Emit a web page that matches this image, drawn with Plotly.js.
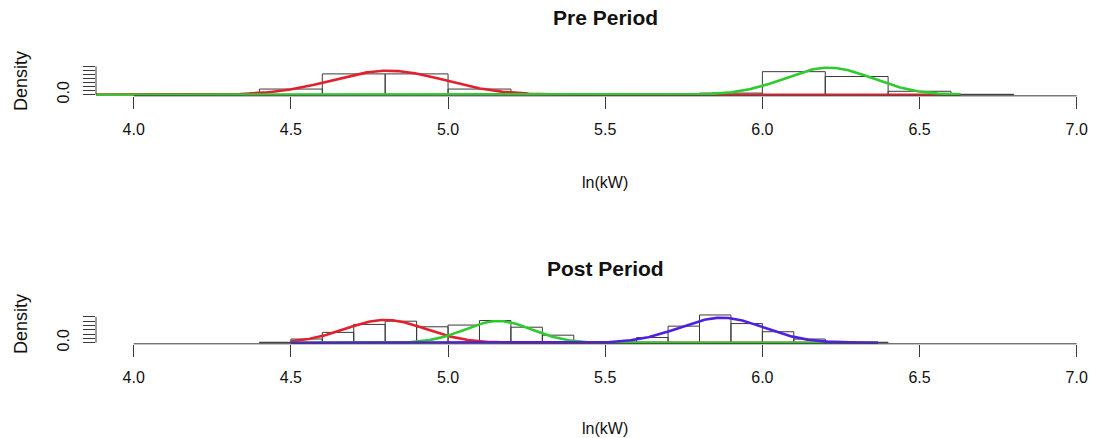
<!DOCTYPE html>
<html>
<head>
<meta charset="utf-8">
<script src="https://cdn.plot.ly/plotly-3.0.1.min.js"></script>
<style>
  html, body { margin: 0; padding: 0; background: #ffffff; }
  #chart { width: 1094px; height: 438px; }
</style>
</head>
<body>
<div id="chart"></div>
<script>
// Histogram of ln(kW): bin edges and densities, before and after
const preBreaks  = [4.4, 4.6, 4.8, 5.0, 5.2, 5.4, 5.6, 5.8, 6.0, 6.2, 6.4, 6.6, 6.8];
const preDensity = [0.28, 1.03, 1.03, 0.28, 0.03, 0, 0, 0.08, 1.14, 0.90, 0.17, 0.02];

const postBreaks  = [4.4, 4.5, 4.6, 4.7, 4.8, 4.9, 5.0, 5.1, 5.2, 5.3, 5.4, 5.5, 5.6, 5.7, 5.8, 5.9, 6.0, 6.1, 6.2, 6.3, 6.4];
const postDensity = [0.02, 0.17, 0.48, 0.85, 1.00, 0.74, 0.82, 1.03, 0.72, 0.35, 0.03, 0.02, 0.24, 0.77, 1.29, 0.89, 0.51, 0.17, 0.05, 0.02];

// Fitted normal mixture components: mean, sd and mixing weight
const preMeans   = [4.81, 6.21];
const preSds     = [0.178, 0.14];
const preWeights = [0.53, 0.47];
const preDataRange = [3.85, 6.63];

const postMeans   = [4.80, 5.16, 5.87];
const postSds     = [0.128, 0.107, 0.134];
const postWeights = [0.34, 0.27, 0.39];
const postDataRange = [4.50, 6.37];

const componentColors = ['#e3202c', '#2ecb2e', '#5020e0'];

// Axis ticks and limits
const xTicks = [4.0, 4.5, 5.0, 5.5, 6.0, 6.5, 7.0];
const xLimits = [4, 7];
const preYTicks  = [0, 0.2, 0.4, 0.6, 0.8, 1.0, 1.2, 1.4];
const preYLimits = [0, 1.4];
const postYTicks  = [0, 0.2, 0.4, 0.6, 0.8, 1.0, 1.2];
const postYLimits = [0, 1.29];

const titles = ['Pre Period', 'Post Period'];
const xLabel = 'ln(kW)';
const yLabel = 'Density';

// ---- page geometry (pixels) ----
const W = 1094, H = 438;
const FONT = 'Liberation Sans, Arial, Helvetica, sans-serif';
const plotLeft = 96;
const pxPerX = 314.33;
const ext = 0.04;  // 4% axis extension on each side
const xStart = xLimits[0] - ext * (xLimits[1] - xLimits[0]);
const xEnd = xStart + (W - plotLeft) / pxPerX;
const py = p => 1 - p / H;

function panelY(limits, zeroPx, pxPerY) {
  const span = limits[1] - limits[0];
  const lo = limits[0] - ext * span, hi = limits[1] + ext * span;
  const bottomPx = zeroPx + (0 - lo) * pxPerY;
  const topPx = zeroPx - hi * pxPerY;
  return { range: [lo, hi], domain: [py(bottomPx), py(topPx)] };
}
const preY = panelY(preYLimits, 94.7, 20.2);
const postY = panelY(postYLimits, 342.7, 21.5);

function histTrace(breaks, dens, xa, ya) {
  const left = breaks.slice(0, -1);
  const widths = left.map((b, i) => breaks[i + 1] - b);
  return {
    type: 'bar', x: left, y: dens, width: widths, offset: 0,
    xaxis: xa, yaxis: ya,
    marker: { color: 'rgba(0,0,0,0)', line: { color: '#3a3a3a', width: 1 } },
    hoverinfo: 'skip'
  };
}

function curveTraces(means, sds, weights, range, xa, ya) {
  return means.map((m, k) => {
    const xs = [], ys = [];
    for (let x = range[0]; x <= range[1] + 1e-9; x += 0.004) {
      xs.push(x);
      ys.push(weights[k] * Math.exp(-0.5 * ((x - m) / sds[k]) ** 2) / (sds[k] * Math.sqrt(2 * Math.PI)));
    }
    return {
      type: 'scatter', mode: 'lines', x: xs, y: ys, xaxis: xa, yaxis: ya,
      line: { color: componentColors[k], width: 2.6, shape: 'linear' },
      hoverinfo: 'skip'
    };
  });
}

const data = [
  histTrace(preBreaks, preDensity, 'x', 'y'),
  ...curveTraces(preMeans, preSds, preWeights, preDataRange, 'x', 'y'),
  histTrace(postBreaks, postDensity, 'x2', 'y2'),
  ...curveTraces(postMeans, postSds, postWeights, postDataRange, 'x2', 'y2')
];

function xAxis(anchor) {
  return {
    anchor: anchor, domain: [plotLeft / W, 1], range: [xStart, xEnd],
    showgrid: false, zeroline: false, showline: false,
    ticks: 'outside', ticklen: 12, tickwidth: 1, tickcolor: '#3a3a3a',
    tickvals: xTicks, ticktext: xTicks.map(v => v.toFixed(1)),
    tickfont: { family: FONT, size: 16, color: '#111' },
    ticklabelstandoff: 7
  };
}
function yAxis(anchor, geo, ticks) {
  return {
    anchor: anchor, domain: geo.domain, range: geo.range,
    showgrid: false, zeroline: false, showline: false,
    ticks: 'outside', ticklen: 12, tickwidth: 1, tickcolor: '#3a3a3a',
    tickvals: ticks, ticktext: ticks.map((v, i) => i === 0 ? v.toFixed(1) : ''),
    tickangle: -90,
    tickfont: { family: FONT, size: 16, color: '#111' },
    ticklabelstandoff: 8
  };
}

// axis lines span first to last tick only
function axisLines(xa, ya, yTicks, geo) {
  return [
    { type: 'line', xref: xa, yref: 'paper', x0: xTicks[0], x1: xTicks[xTicks.length - 1],
      y0: geo.domain[0], y1: geo.domain[0], line: { color: '#3a3a3a', width: 1 } },
    { type: 'line', xref: 'paper', yref: ya, x0: plotLeft / W, x1: plotLeft / W,
      y0: yTicks[0], y1: yTicks[yTicks.length - 1], line: { color: '#3a3a3a', width: 1 } }
  ];
}

const xMid = (xLimits[0] + xLimits[1]) / 2;
function texts(xa, titlePx, xlabPx, ylabPx, title) {
  return [
    { xref: xa, yref: 'paper', x: xMid, y: py(titlePx), text: title, showarrow: false,
      xanchor: 'center', yanchor: 'middle', font: { family: FONT, size: 21, weight: 'bold', color: '#111' } },
    { xref: xa, yref: 'paper', x: xMid, y: py(xlabPx), text: xLabel, showarrow: false,
      xanchor: 'center', yanchor: 'middle', font: { family: FONT, size: 16, color: '#111' } },
    { xref: 'paper', yref: 'paper', x: 21 / W, y: py(ylabPx), text: yLabel, showarrow: false,
      textangle: -90, xanchor: 'center', yanchor: 'middle', font: { family: FONT, size: 18, color: '#111' } }
  ];
}

const layout = {
  width: W, height: H,
  margin: { l: 0, r: 0, t: 0, b: 0 },
  paper_bgcolor: '#ffffff', plot_bgcolor: '#ffffff',
  showlegend: false,
  xaxis: xAxis('y'), yaxis: yAxis('x', preY, preYTicks),
  xaxis2: xAxis('y2'), yaxis2: yAxis('x2', postY, postYTicks),
  shapes: [...axisLines('x', 'y', preYTicks, preY), ...axisLines('x2', 'y2', postYTicks, postY)],
  annotations: [...texts('x', 18, 182, 81, titles[0]), ...texts('x2', 268, 428, 324, titles[1])]
};

Plotly.newPlot('chart', data, layout, { staticPlot: true, displayModeBar: false });
</script>
</body>
</html>
